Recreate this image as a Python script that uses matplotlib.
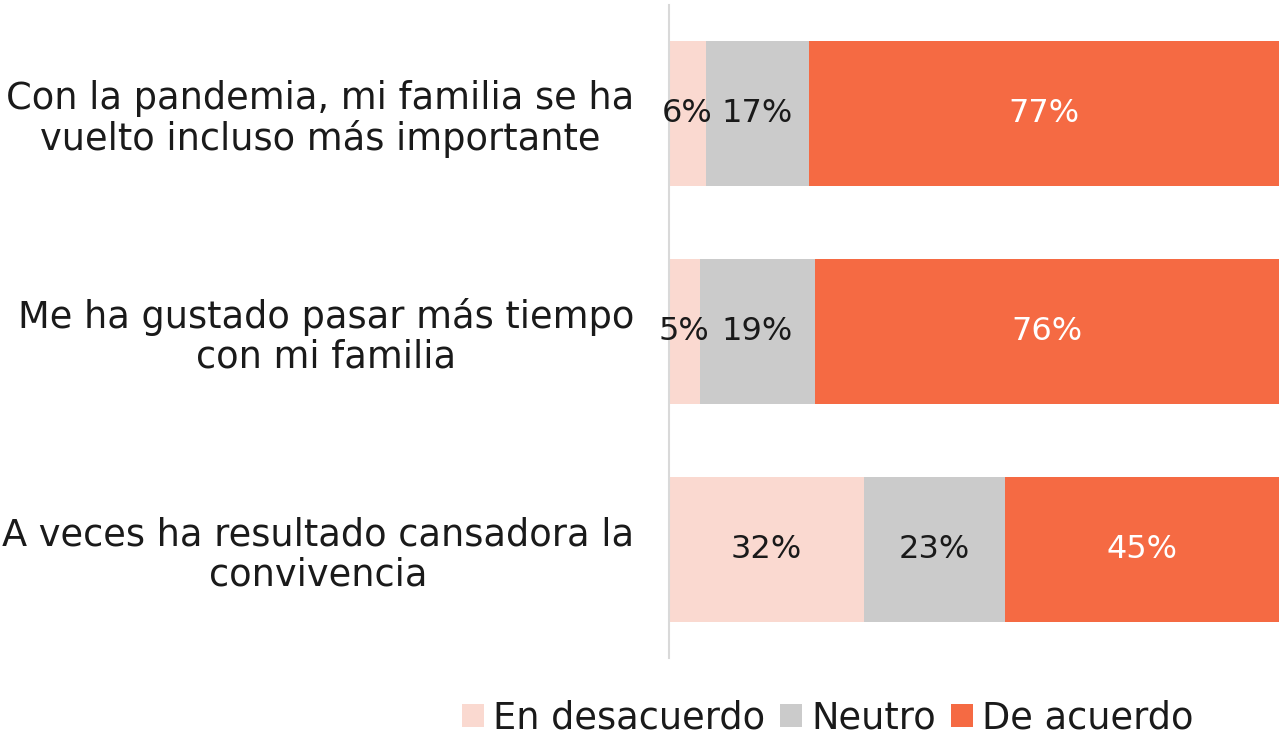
import matplotlib
matplotlib.use("Agg")
import matplotlib.pyplot as plt
import numpy as np

plt.rcParams["font.family"] = ["DejaVu Sans"]

# Datos
preguntas = [
    "Con la pandemia, mi familia se ha\nvuelto incluso más importante",
    "Me ha gustado pasar más tiempo\ncon mi familia",
    "A veces ha resultado cansadora la\nconvivencia",
]
desacuerdo = [6, 5, 32]
neutro = [17, 19, 23]
acuerdo = [77, 76, 45]

series = ["En desacuerdo", "Neutro", "De acuerdo"]
colores = ["#FAD9D0", "#CBCBCB", "#F56A43"]
color_texto = ["#1a1a1a", "#1a1a1a", "white"]

fig = plt.figure(figsize=(12.81, 7.37), dpi=100)
ax = fig.add_axes([669 / 1281, 1 - 658 / 737, 610 / 1281, 653 / 737])

y = np.arange(len(preguntas))
izq = np.zeros(len(preguntas))
for nombre, vals, col, tc in zip(series, [desacuerdo, neutro, acuerdo], colores, color_texto):
    vals = np.array(vals, dtype=float)
    barras = ax.barh(y, vals, left=izq, height=0.665, color=col, label=nombre)
    for b, v in zip(barras, vals):
        ax.text(b.get_x() + b.get_width() / 2, b.get_y() + b.get_height() / 2,
                f"{int(v)}%", ha="center", va="center", fontsize=23, color=tc)
    izq += vals

ax.set_xlim(0, 100)
ax.set_ylim(2.5, -0.5)
ax.set_yticks(y)
ax.set_yticklabels(preguntas, fontsize=26.5, multialignment="center",
                   color="#1a1a1a", linespacing=1.1)
ax.tick_params(axis="y", length=0, pad=25)
ax.set_xticks([])
for s in ["top", "right", "bottom"]:
    ax.spines[s].set_visible(False)
ax.spines["left"].set_color("#D9D9D9")
ax.spines["left"].set_linewidth(1.5)

fig.legend(loc="center", bbox_to_anchor=(828 / 1281, 1 - 718 / 737), ncol=3,
           frameon=False, fontsize=26.5, handlelength=0.6, handleheight=0.6,
           handletextpad=0.25, columnspacing=0.4, labelcolor="#1a1a1a")

fig.savefig("out.png", dpi=100)
